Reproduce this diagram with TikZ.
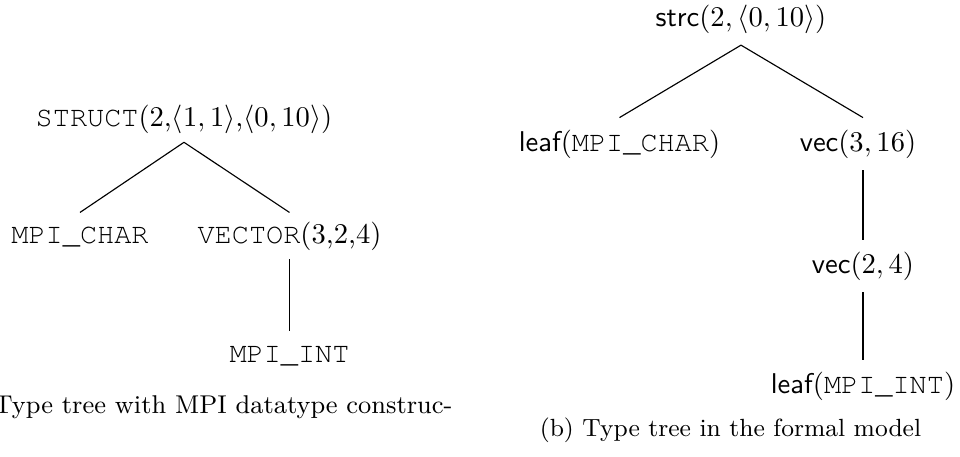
\documentclass[tikz,border=0pt]{standalone}
\usepackage[T1,TU]{fontenc}
\usepackage{fontspec}
\newcommand{\crtt}[1]{{\fontencoding{T1}\fontfamily{pcr}\selectfont #1}}
\begin{document}
\begin{tikzpicture}[x=0.35pt,y=-0.35pt,
  lbl/.style={anchor=base, inner xsep=0pt, inner ysep=3pt, text height=7.5pt, text depth=2.5pt, font=\fontsize{10}{12}\selectfont},
  lblr/.style={lbl, inner ysep=4pt},
  captext/.style={anchor=base, inner sep=0pt, font=\fontsize{8.7}{11}\selectfont},
  edge/.style={draw=black, line width=0.4pt}]
\useasboundingbox (0,0) rectangle (960,456);
% left tree
\node[lbl] (s1) at (184,126) {\crtt{STRUCT}(2,$\langle 1,1\rangle$,$\langle 0,10\rangle$)};
\node[lbl] (c1) at (80,243) {\crtt{MPI\_CHAR}};
\node[lbl] (v1) at (289.5,243) {\crtt{VECTOR}(3,2,4)};
\node[lbl] (i1) at (289.5,362) {\crtt{MPI\_INT}};
\draw[edge] (s1.south) -- (c1.north);
\draw[edge] (s1.south) -- (v1.north);
\draw[edge] (v1.south) -- (i1.north);
\node[captext, anchor=base east, font=\fontsize{9}{11}\selectfont] (capa) at (453,413) {(a) Type tree with MPI datatype construc-};
% right tree
\node[lblr] (s2) at (741,26) {$\mathsf{strc}(2,\langle 0,10\rangle)$};
\node[lblr] (c2) at (619.5,151) {$\mathsf{leaf}(\hbox{\crtt{MPI\_CHAR}})$};
\node[lblr] (v2) at (858,151) {$\mathsf{vec}(3,16)$};
\node[lblr] (w2) at (863,273) {$\mathsf{vec}(2,4)$};
\node[lblr] (i2) at (863,393) {$\mathsf{leaf}(\hbox{\crtt{MPI\_INT}})$};
\draw[edge] (s2.south) -- (c2.north);
\draw[edge] (s2.south) -- (v2.north -| w2.north);
\draw[edge] (v2.south -| w2.north) -- (w2.north);
\draw[edge] (w2.south) -- (i2.north);
\node[captext] (capb) at (730.5,436) {(b) Type tree in the formal model};
\end{tikzpicture}
\end{document}
